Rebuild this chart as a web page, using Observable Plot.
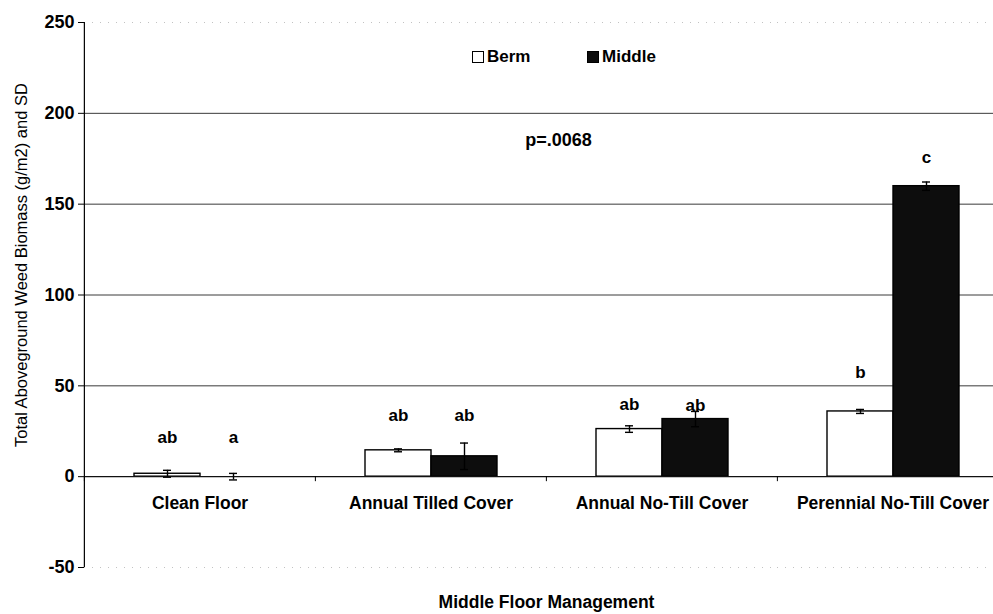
<!DOCTYPE html>
<html><head><meta charset="utf-8">
<script src="https://cdn.jsdelivr.net/npm/d3@7"></script>
<script src="https://cdn.jsdelivr.net/npm/@observablehq/plot@0.6"></script>
<style>
body{margin:0;background:#fff;overflow:hidden;font-family:"Liberation Sans",Arial,sans-serif}
#wrap{position:relative;width:993px;height:614px}
.item{position:absolute;top:48px;display:flex;align-items:center;font-weight:bold;font-size:17px;color:#000;line-height:18px}
.box{display:inline-block;width:10px;height:10px;border:1.5px solid #000;margin-right:3px}
</style></head><body><div id="wrap"></div>
<script>
const categories = ["Clean Floor","Annual Tilled Cover","Annual No-Till Cover","Perennial No-Till Cover"];
const series = ["Berm","Middle"];
const bermMeans = [1.6, 14.5, 26.2, 35.9];
const bermSD = [1.9, 0.8, 1.8, 1.1];
const middleMeans = [0, 11.2, 31.7, 159.9];
const middleSD = [1.8, 7.3, 4.2, 2.3];
const bermLetters = ["ab","ab","ab","b"];
const middleLetters = ["a","ab","ab","c"];
const bermLetterY = [21.4, 33.5, 39.5, 57.3];
const middleLetterY = [21.4, 33.5, 39.0, 175.5];
const yTicks = [-50,0,50,100,150,200,250];
const gridValues = [50,100,150,200];
const pValue = "p=.0068";
const yTitle = "Total Aboveground Weed Biomass (g/m2) and SD";
const xTitle = "Middle Floor Management";

const rows = [];
categories.forEach((c,i)=>{
  rows.push({category:c, series:"Berm", mean:bermMeans[i], sd:bermSD[i], letter:bermLetters[i], ly:bermLetterY[i]});
  rows.push({category:c, series:"Middle", mean:middleMeans[i], sd:middleSD[i], letter:middleLetters[i], ly:middleLetterY[i]});
});

const W=993,H=614,mL=83,mR=-15,mT=22,mB=47;
const step=(W-mL-mR)/categories.length;
const font='"Liberation Sans", Arial, sans-serif';

const chart = Plot.plot({
  width:W, height:H, marginLeft:mL, marginRight:mR, marginTop:mT, marginBottom:mB,
  style:{fontFamily:font, fontSize:"17px", color:"#000", background:"#fff", overflow:"hidden"},
  fx:{domain:categories, paddingInner:0, paddingOuter:0, axis:null, label:null},
  x:{domain:series, paddingInner:0, paddingOuter:0.726, axis:null, label:null},
  y:{domain:[-50,250], axis:null},
  color:{domain:series, range:["#ffffff","#0d0d0d"]},
  marks:[
    Plot.ruleY([250,-50], {stroke:"#999", strokeDasharray:"1,7", strokeOpacity:0.6}),
    Plot.ruleY(gridValues, {stroke:"#3a3a3a", strokeWidth:1}),
    Plot.barY(rows, {fx:"category", x:"series", y:"mean", fill:"series", stroke:"#000", strokeWidth:1.4}),
    Plot.ruleY([0], {stroke:"#111", strokeWidth:1.3}),
    Plot.ruleX(rows, {fx:"category", x:"series", y1:d=>d.mean-d.sd, y2:d=>d.mean+d.sd, stroke:"#000", strokeWidth:1.4}),
    Plot.tickY(rows, {fx:"category", x:"series", y:d=>d.mean+d.sd, insetLeft:29, insetRight:29, stroke:"#000", strokeWidth:1.4}),
    Plot.tickY(rows, {fx:"category", x:"series", y:d=>d.mean-d.sd, insetLeft:29, insetRight:29, stroke:"#000", strokeWidth:1.4}),
    Plot.ruleX(categories, {fx:d=>d, x:null, y1:()=>0, y2:()=>0, insetBottom:-5, dx:-step/2, stroke:"#000"}),
    Plot.ruleX(categories.slice(0,1), {fx:d=>d, x:null, y1:()=>-50, y2:()=>250, dx:-step/2, stroke:"#000", strokeWidth:1.2}),
    Plot.axisY(yTicks, {tickSize:6, tickPadding:4, tickFormat:d=>String(d), fontWeight:"bold", fontSize:18, label:null, stroke:"#000"}),
    Plot.text(rows, {fx:"category", x:"series", y:"ly", text:"letter", fontWeight:"bold", fontSize:17, fill:"#000"}),
    Plot.text(categories, {fx:d=>d, y:()=>0, text:d=>d, dy:27, fontWeight:"bold", fontSize:17.5, fill:"#000"}),
    Plot.text([pValue], {facet:"super", frameAnchor:"top", lineAnchor:"middle", text:d=>d, dx:12, dy:118, fontWeight:"bold", fontSize:18, fill:"#000"}),
    Plot.text([xTitle], {facet:"super", frameAnchor:"bottom", lineAnchor:"middle", text:d=>d, dy:35, fontWeight:"bold", fontSize:17.5, fill:"#000"}),
    Plot.text([yTitle], {facet:"super", frameAnchor:"left", textAnchor:"middle", lineAnchor:"middle", text:d=>d, rotate:-90, dx:-63, dy:-30, fontSize:16.5, fill:"#000"})
  ]
});
const wrap=document.getElementById("wrap");
wrap.appendChild(chart);
const leg=[{name:series[0],fill:"#fff",left:472},{name:series[1],fill:"#0d0d0d",left:587}];
leg.forEach(l=>{
  const d=document.createElement("div");
  d.className="item"; d.style.left=l.left+"px";
  const b=document.createElement("span"); b.className="box"; b.style.background=l.fill;
  d.appendChild(b); d.appendChild(document.createTextNode(l.name));
  wrap.appendChild(d);
});
</script></body></html>
